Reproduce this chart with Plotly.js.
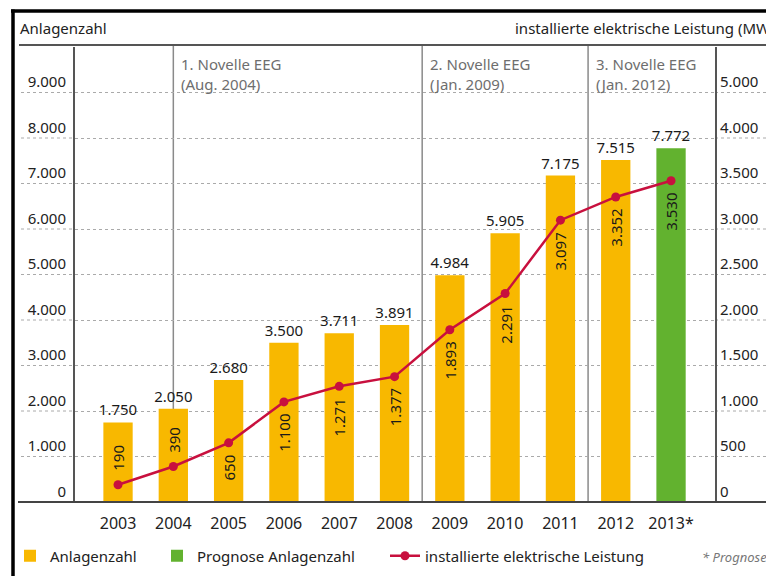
<!DOCTYPE html>
<html>
<head>
<meta charset="utf-8">
<script src="https://cdn.plot.ly/plotly-3.0.1.min.js"></script>
<style>html,body{margin:0;padding:0;background:#fff;}</style>
</head>
<body>
<div id="chart" style="width:766px;height:576px;"></div>
<script>
// ---- data ----
const years = ['2003','2004','2005','2006','2007','2008','2009','2010','2011','2012'];
const anlagenzahl = [1750, 2050, 2680, 3500, 3711, 3891, 4984, 5905, 7175, 7515];
const prognoseYears = ['2013*'];
const prognoseAnlagenzahl = [7772];
const leistungYears = ['2003','2004','2005','2006','2007','2008','2009','2010','2011','2012','2013*'];
const leistung = [190, 390, 650, 1100, 1271, 1377, 1893, 2291, 3097, 3352, 3530];
const leftTicks = [0, 1000, 2000, 3000, 4000, 5000, 6000, 7000, 8000, 9000];
const rightTickVals = [0, 500, 1000, 1500, 2000, 2500, 3000, 3500, 4000, 4500];
const rightTickText = ['0', '500', '1.000', '1.500', '2.000', '2.500', '3.000', '3.500', '4.000', '5.000'];
const novelleAt = [1, 5.5, 8.5];
const novelleLabels = ['1. Novelle EEG<br>(Aug. 2004)', '2. Novelle EEG<br>(Jan. 2009)', '3. Novelle EEG<br>(Jan. 2012)'];
const labelAbove = [true, true, false, false, false, false, false, false, false, false, false];

// ---- geometry helpers (pixels -> paper) ----
const L = 75, R = 715, T = 47, B = 502;
const px = x => (x - L) / (R - L);
const py = y => (B - y) / (B - T);

const FONT = 'Noto Sans, Open Sans, sans-serif';
const YELLOW = '#F8B800', GREEN = '#62B22F', RED = '#C8103E';

const traces = [
  {
    type: 'bar', name: 'Anlagenzahl', x: years, y: anlagenzahl,
    marker: {color: YELLOW}, width: 0.53,
    texttemplate: '%{y:,d}', textposition: 'outside', constraintext: 'none',
    textfont: {family: FONT, size: 15, color: '#1a1a1a'}, cliponaxis: false,
    legend: 'legend', hoverinfo: 'skip'
  },
  {
    type: 'bar', name: 'Prognose Anlagenzahl', x: prognoseYears, y: prognoseAnlagenzahl,
    marker: {color: GREEN}, width: 0.53,
    texttemplate: '%{y:,d}', textposition: 'outside', constraintext: 'none',
    textfont: {family: FONT, size: 15, color: '#1a1a1a'}, cliponaxis: false,
    legend: 'legend2', hoverinfo: 'skip'
  },
  {
    type: 'scatter', mode: 'lines+markers', name: 'installierte elektrische Leistung',
    x: leistungYears, y: leistung, yaxis: 'y2',
    line: {color: RED, width: 2.5}, marker: {color: RED, size: 9},
    legend: 'legend3', hoverinfo: 'skip', cliponaxis: false
  }
];

const shapes = [];
const annotations = [];

// vertical separators (Novellen)
novelleAt.forEach((x, i) => {
  shapes.push({type: 'line', layer: 'between', xref: 'x', yref: 'paper', x0: x, x1: x, y0: 0, y1: py(45),
    line: {color: '#8a8a8a', width: 1.5}});
  annotations.push({xref: 'x', yref: 'paper', x: x, y: py(52), xshift: 6, xanchor: 'left', yanchor: 'top',
    align: 'left', showarrow: false, text: novelleLabels[i],
    font: {family: FONT, size: 15, color: '#6e6e6e'}});
});

// gridline extensions under the tick labels
leftTicks.slice(1).forEach(v => {
  shapes.push({type: 'line', layer: 'below', xref: 'paper', yref: 'y', x0: px(21), x1: 0, y0: v, y1: v,
    line: {color: '#aaaaaa', width: 1, dash: 'dot'}});
  shapes.push({type: 'line', layer: 'below', xref: 'paper', yref: 'y', x0: 1, x1: px(780), y0: v, y1: v,
    line: {color: '#aaaaaa', width: 1, dash: 'dot'}});
});

// header line, bottom axis line, outer black frame
shapes.push({type: 'line', xref: 'paper', yref: 'paper', x0: px(19), x1: px(780), y0: py(45), y1: py(45),
  line: {color: '#555', width: 2}});
shapes.push({type: 'line', xref: 'paper', yref: 'paper', x0: px(18), x1: px(780), y0: 0, y1: 0,
  line: {color: '#444', width: 2}});
shapes.push({type: 'line', xref: 'paper', yref: 'paper', x0: px(11), x1: px(780), y0: py(11), y1: py(11),
  line: {color: '#000', width: 3.5}});
shapes.push({type: 'line', xref: 'paper', yref: 'paper', x0: px(13), x1: px(13), y0: py(9.5), y1: py(600),
  line: {color: '#000', width: 3.5}});

// rotated value labels of the Leistung line
leistung.forEach((v, i) => {
  const above = labelAbove[i];
  annotations.push({xref: 'x', yref: 'y2', x: i, y: v, textangle: -90,
    text: v.toLocaleString('de-DE'), showarrow: false, xanchor: 'center',
    yanchor: above ? 'bottom' : 'top', yshift: above ? 12 : -10,
    font: {family: FONT, size: 15, color: '#1a1a1a'}});
});

// header texts
annotations.push({xref: 'paper', yref: 'paper', x: px(18), y: py(28), xanchor: 'left', yanchor: 'middle',
  showarrow: false, text: 'Anlagenzahl', font: {family: FONT, size: 15, color: '#222'}});
annotations.push({xref: 'paper', yref: 'paper', x: px(513), y: py(28), xanchor: 'left', yanchor: 'middle',
  showarrow: false, text: 'installierte elektrische Leistung (MW)', font: {family: FONT, size: 15, color: '#222'}});
annotations.push({xref: 'paper', yref: 'paper', x: px(700), y: py(557), xanchor: 'left', yanchor: 'middle',
  showarrow: false, text: '<i>* Prognose</i>', font: {family: FONT, size: 13, color: '#777'}});

const legendBase = {orientation: 'h', yanchor: 'middle', xanchor: 'left', y: py(556),
  bgcolor: 'rgba(0,0,0,0)', borderwidth: 0, font: {family: FONT, size: 15, color: '#222'}};

const layout = {
  width: 766, height: 576,
  margin: {l: L, r: 766 - R, t: T, b: 576 - B, autoexpand: false},
  paper_bgcolor: '#fff', plot_bgcolor: '#fff',
  separators: ',.',
  barmode: 'overlay',
  font: {family: FONT, size: 15, color: '#222'},
  xaxis: {type: 'category', categoryorder: 'array', categoryarray: leistungYears,
    range: [-0.778, 10.795], showgrid: false, zeroline: false, showline: false, ticks: '',
    ticklabelstandoff: 10, automargin: false,
    tickfont: {family: FONT, size: 16, color: '#222'}, fixedrange: true},
  yaxis: {range: [0, 10000], tickvals: leftTicks, tickformat: ',d', showgrid: true,
    gridcolor: '#aaaaaa', griddash: 'dot', gridwidth: 1, zeroline: false, automargin: false,
    showline: true, linecolor: '#555', linewidth: 2, ticks: '', ticklabelstandoff: 4,
    ticklabelposition: 'outside top', tickfont: {family: FONT, size: 15, color: '#222'}},
  yaxis2: {overlaying: 'y', side: 'right', range: [0, 5000], tickvals: rightTickVals, ticktext: rightTickText,
    showgrid: false, zeroline: false, showline: true, linecolor: '#555', linewidth: 2, ticks: '', automargin: false,
    ticklabelposition: 'outside top', tickfont: {family: FONT, size: 15, color: '#222'}},
  legend: Object.assign({}, legendBase, {x: px(10)}),
  legend2: Object.assign({}, legendBase, {x: px(157)}),
  legend3: Object.assign({}, legendBase, {x: px(385)}),
  shapes: shapes,
  annotations: annotations,
  showlegend: true
};

Plotly.newPlot('chart', traces, layout, {displayModeBar: false, staticPlot: true});
</script>
</body>
</html>
